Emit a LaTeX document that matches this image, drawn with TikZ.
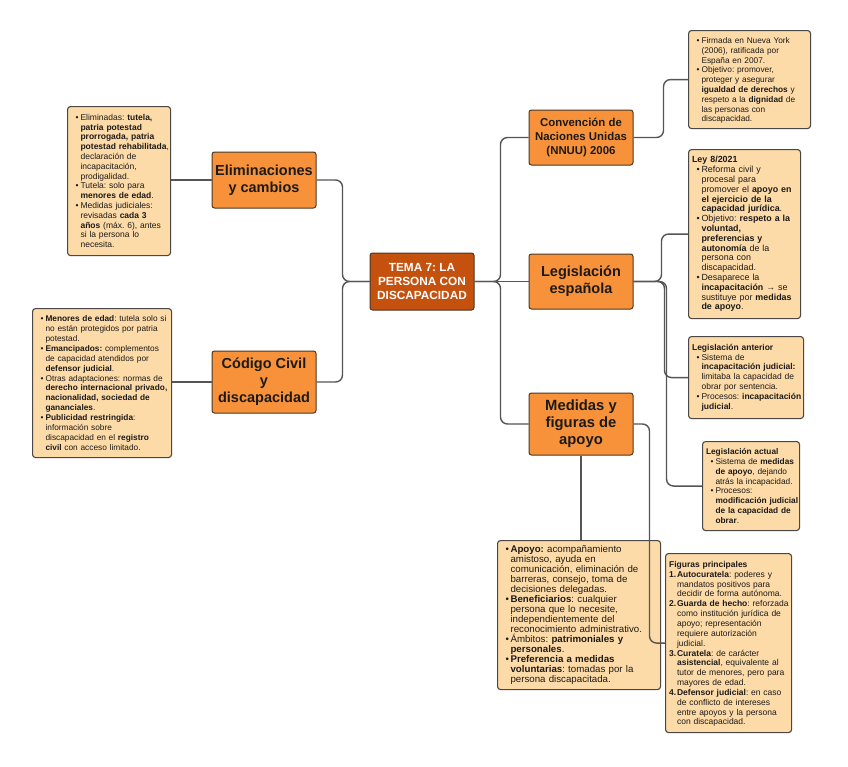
\documentclass[tikz,border=0pt]{standalone}
\usepackage{fontspec}
\setmainfont{Liberation Sans}
\definecolor{mainor}{HTML}{F7923A}
\definecolor{centor}{HTML}{C5510F}
\definecolor{peach}{HTML}{FDDBA8}
\definecolor{linegray}{HTML}{555555}
\definecolor{bordbrown}{HTML}{4B3722}
\definecolor{boxbord}{HTML}{4A4744}
\definecolor{txt}{HTML}{1C1A18}
\newcommand\mbul[1]{\hspace*{4.5pt}\makebox[5pt][l]{\textbullet}\mbox{#1}}
\newcommand\mind[1]{\hspace*{9.5pt}\mbox{#1}}
\newcommand\mtitle[1]{\mbox{\textbf{#1}}}
\newcommand\mnum[2]{\makebox[8pt][l]{\textbf{#1}}\mbox{#2}}
\newcommand\mnind[1]{\hspace*{8pt}\mbox{#1}}
\tikzset{
  mainnode/.style={draw=bordbrown, fill=mainor, line width=1pt, rounded corners=2.5pt,
    minimum width=104pt, align=center, inner sep=2pt, text=txt},
  bignode/.style={mainnode, font=\fontsize{14.5}{17}\selectfont\bfseries},
  centnode/.style={draw=bordbrown, fill=centor, line width=1pt, rounded corners=2.5pt,
    minimum width=104pt, minimum height=57pt, align=center, inner sep=2pt, text=white,
    font=\fontsize{11.8}{14.3}\selectfont\bfseries},
  tbox/.style={draw=boxbord, fill=peach, line width=1.1pt, rounded corners=3pt,
    anchor=north west, align=left, inner xsep=3.5pt, inner ysep=4pt, text=txt},
  conn/.style={draw=linegray, line width=1.4pt, rounded corners=7pt},
}
\begin{document}
\frenchspacing
\begin{tikzpicture}[x=1pt,y=-1pt]
\useasboundingbox[fill=white] (0,0) rectangle (848,766);

% central and main nodes
\node[centnode] (center) at (422,281.5) {TEMA 7: LA\\PERSONA CON\\DISCAPACIDAD};
\node[bignode, minimum height=56pt] (elim) at (264,180) {Eliminaciones\\y cambios};
\node[bignode, minimum height=62pt] (codigo) at (264,382) {Código Civil\\y\\discapacidad};
\node[mainnode, minimum height=55pt, font=\fontsize{11.4}{14}\selectfont\bfseries] (conv) at (581,137.5) {Convención de\\Naciones Unidas\\(NNUU) 2006};
\node[bignode, minimum height=55pt] (legis) at (581,281.5) {Legislación\\española};
\node[bignode, minimum height=62pt, font=\fontsize{14.8}{17}\selectfont\bfseries] (medidas) at (581,424) {Medidas y\\figuras de\\apoyo};

% text boxes
\node[tbox, text width=115pt, minimum height=98pt, font=\fontsize{8.3}{9.8}\selectfont] (cbox) at (688,30) {%
\rule{0pt}{8pt}\mbul{Firmada en Nueva York}\\
\mind{(2006), ratificada por}\\
\mind{España en 2007.}\\
\mbul{Objetivo: promover,}\\
\mind{proteger y asegurar}\\
\mind{\textbf{igualdad de derechos} y}\\
\mind{respeto a la \textbf{dignidad} de}\\
\mind{las personas con}\\
\mind{discapacidad.}};

\node[tbox, text width=105pt, minimum height=169pt, font=\fontsize{8.9}{9.8}\selectfont] (ley) at (688,149) {%
\mtitle{Ley 8/2021}\\
\mbul{Reforma civil y}\\
\mind{procesal para}\\
\mind{promover el \textbf{apoyo en}}\\
\mind{\textbf{el ejercicio de la}}\\
\mind{\textbf{capacidad jurídica}.}\\
\mbul{Objetivo: \textbf{respeto a la}}\\
\mind{\textbf{voluntad,}}\\
\mind{\textbf{preferencias y}}\\
\mind{\textbf{autonomía} de la}\\
\mind{persona con}\\
\mind{discapacidad.}\\
\mbul{Desaparece la}\\
\mind{\textbf{incapacitación} → se}\\
\mind{sustituye por \textbf{medidas}}\\
\mind{\textbf{de apoyo}.}};

\node[tbox, text width=108pt, minimum height=82pt, font=\fontsize{8.5}{9.8}\selectfont] (ant) at (688,336) {%
\mtitle{Legislación anterior}\\
\mbul{Sistema de}\\
\mind{\textbf{incapacitación judicial:}}\\
\mind{limitaba la capacidad de}\\
\mind{obrar por sentencia.}\\
\mbul{Procesos: \textbf{incapacitación}}\\
\mind{\textbf{judicial}.}};

\node[tbox, text width=90pt, minimum height=89pt, font=\fontsize{8.3}{9.8}\selectfont] (act) at (702,441) {%
\mtitle{Legislación actual}\\
\mbul{Sistema de \textbf{medidas}}\\
\mind{\textbf{de apoyo}, dejando}\\
\mind{atrás la incapacidad.}\\
\mbul{Procesos:}\\
\mind{\textbf{modificación judicial}}\\
\mind{\textbf{de la capacidad de}}\\
\mind{\textbf{obrar}.}};

\node[tbox, text width=119pt, minimum height=179pt, font=\fontsize{8.5}{9.85}\selectfont] (fig) at (665,553) {%
\rule{0pt}{8pt}\mtitle{Figuras principales}\\
\mnum{1.}{\textbf{Autocuratela}: poderes y}\\
\mnind{mandatos positivos para}\\
\mnind{decidir de forma autónoma.}\\
\mnum{2.}{\textbf{Guarda de hecho}: reforzada}\\
\mnind{como institución jurídica de}\\
\mnind{apoyo; representación}\\
\mnind{requiere autorización}\\
\mnind{judicial.}\\
\mnum{3.}{\textbf{Curatela}: de carácter}\\
\mnind{\textbf{asistencial}, equivalente al}\\
\mnind{tutor de menores, pero para}\\
\mnind{mayores de edad.}\\
\mnum{4.}{\textbf{Defensor judicial}: en caso}\\
\mnind{de conflicto de intereses}\\
\mnind{entre apoyos y la persona}\\
\mnind{con discapacidad.}};

\node[tbox, text width=156pt, minimum height=149pt, font=\fontsize{9.7}{9.95}\selectfont] (apoyo) at (497,540) {%
\mbul{\textbf{Apoyo:} acompañamiento}\\
\mind{amistoso, ayuda en}\\
\mind{comunicación, eliminación de}\\
\mind{barreras, consejo, toma de}\\
\mind{decisiones delegadas.}\\
\mbul{\textbf{Beneficiarios}: cualquier}\\
\mind{persona que lo necesite,}\\
\mind{independientemente del}\\
\mind{reconocimiento administrativo.}\\
\mbul{Ámbitos: \textbf{patrimoniales y}}\\
\mind{\textbf{personales}.}\\
\mbul{\textbf{Preferencia a medidas}}\\
\mind{\textbf{voluntarias}: tomadas por la}\\
\mind{persona discapacitada.}};

\node[tbox, text width=96pt, minimum height=149pt, font=\fontsize{8.5}{9.8}\selectfont] (tl) at (67,106) {%
\mbul{Eliminadas: \textbf{tutela,}}\\
\mind{\textbf{patria potestad}}\\
\mind{\textbf{prorrogada, patria}}\\
\mind{\textbf{potestad rehabilitada},}\\
\mind{declaración de}\\
\mind{incapacitación,}\\
\mind{prodigalidad.}\\
\mbul{Tutela: solo para}\\
\mind{\textbf{menores de edad}.}\\
\mbul{Medidas judiciales:}\\
\mind{revisadas \textbf{cada 3}}\\
\mind{\textbf{años} (máx. 6), antes}\\
\mind{si la persona lo}\\
\mind{necesita.}};

\node[tbox, text width=132pt, minimum height=149pt, font=\fontsize{8.3}{9.9}\selectfont] (bl) at (32,308) {%
\mbul{\textbf{Menores de edad}: tutela solo si}\\
\mind{no están protegidos por patria}\\
\mind{potestad.}\\
\mbul{\textbf{Emancipados:} complementos}\\
\mind{de capacidad atendidos por}\\
\mind{\textbf{defensor judicial}.}\\
\mbul{Otras adaptaciones: normas de}\\
\mind{\textbf{derecho internacional privado,}}\\
\mind{\textbf{nacionalidad, sociedad de}}\\
\mind{\textbf{gananciales}.}\\
\mbul{\textbf{Publicidad restringida}:}\\
\mind{información sobre}\\
\mind{discapacidad en el \textbf{registro}}\\
\mind{\textbf{civil} con acceso limitado.}};

% connectors
\draw[conn] (center.west) -- ++(-27,0) |- (elim.east);
\draw[conn] (center.west) -- ++(-27,0) |- (codigo.east);
\draw[conn] (center.east) -- ++(26,0) |- (conv.west);
\draw[conn] (center.east) -- (legis.west);
\draw[conn] (center.east) -- ++(26,0) |- (medidas.west);
\draw[conn] (conv.east) -- ++(30,0) |- (cbox.west);
\draw[conn] (legis.east) -- ++(28,0) |- (ley.west);
\draw[conn] (legis.east) -- ++(31,0) |- (ant.west);
\draw[conn] (legis.east) -- ++(33,0) |- (act.west);
\draw[conn] (medidas.east) -- ++(16,0) |- (fig.west);
\draw[conn] (medidas.south) -- (medidas.south |- apoyo.north);
\draw[conn] (elim.west) -- (elim.west -| tl.east);
\draw[conn] (codigo.west) -- (codigo.west -| bl.east);
\end{tikzpicture}
\end{document}
